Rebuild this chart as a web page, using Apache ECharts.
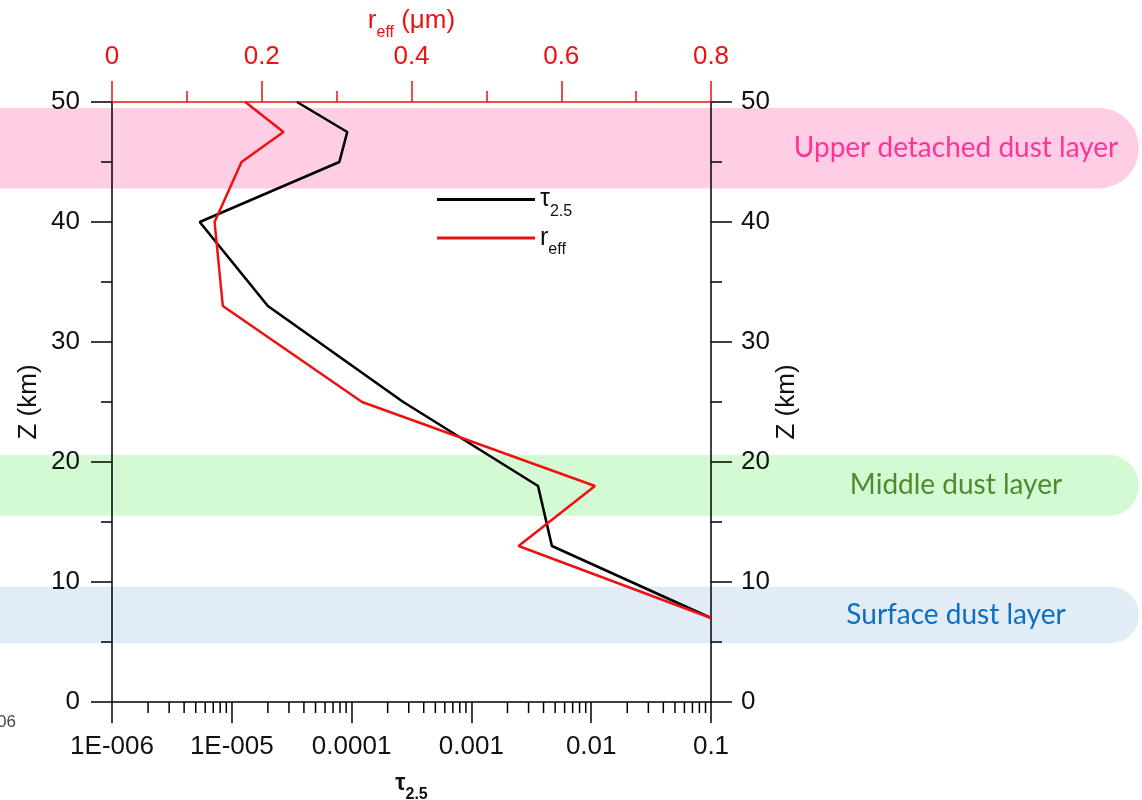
<!DOCTYPE html>
<html>
<head>
<meta charset="utf-8">
<script src="https://cdn.jsdelivr.net/npm/echarts@6/dist/echarts.min.js"></script>
<style>
html,body{margin:0;padding:0;background:#fff;}
#chart{width:1142px;height:800px;}
</style>
</head>
<body>
<div id="chart"></div>
<script>
// ---- data ----
const altitudeKm = [50, 47.5, 45, 40, 33, 25, 18, 13, 7];
const tau25 = [3.5e-5, 9.2e-5, 7.9e-5, 5.4e-6, 2.0e-5, 2.7e-4, 3.6e-3, 4.7e-3, 0.1];
const rEff = [0.178, 0.229, 0.173, 0.137, 0.148, 0.334, 0.645, 0.543, 0.8];

// tick labels for log axis (exponent -6 .. -1)
const logExponents = [-6, -5, -4, -3, -2, -1];
const logTickLabels = ['1E-006', '1E-005', '0.0001', '0.001', '0.01', '0.1'];
const minorMultipliers = [2, 3, 4, 5, 6, 7, 8, 9];
const minorDecades = [1e-6, 1e-5, 1e-4, 1e-3, 1e-2];

// dust layer bands (km)
const bandNames = ['Upper detached dust layer', 'Middle dust layer', 'Surface dust layer'];
const bandTop = [49.5, 20.6, 9.6];
const bandBottom = [42.8, 15.5, 4.9];
const bandFill = ['rgba(255,102,170,0.32)', 'rgba(90,235,90,0.26)', 'rgba(140,180,225,0.25)'];
const bandTextColor = ['#ff3399', '#4f8a2e', '#0a70c0'];

const minorTickData = [];
minorDecades.forEach(d => minorMultipliers.forEach(m => minorTickData.push([m * d, 0])));

const FONT = '"Liberation Sans", Arial, sans-serif';
const RED = '#ee1111';
const LBL = 26;

const chart = echarts.init(document.getElementById('chart'), null, {renderer: 'canvas'});

function baseAxis(color) {
  return {
    nameMoveOverlap: false,
    axisLine: {show: true, onZero: false, lineStyle: {color: color, width: 1.5}},
    axisTick: {show: true, length: 21, lineStyle: {color: color, width: 1.5}},
    splitLine: {show: false},
    minorSplitLine: {show: false}
  };
}

const option = {
  backgroundColor: '#fff',
  animation: false,
  textStyle: {fontFamily: FONT},
  grid: {left: 112, top: 102, right: 431, bottom: 98, containLabel: false, outerBoundsMode: 'none'},
  legend: {
    data: ['tau', 'reff'],
    orient: 'vertical',
    left: 432,
    top: 182,
    itemWidth: 98,
    itemHeight: 3,
    itemGap: 6,
    icon: 'rect',
    formatter: n => n === 'tau' ? '{m|τ}{s|2.5}' : '{m|r}{s|eff}',
    textStyle: {
      fontFamily: FONT,
      color: '#111',
      rich: {
        m: {fontSize: 25, fontFamily: FONT, color: '#111', lineHeight: 28},
        s: {fontSize: 16, fontFamily: FONT, color: '#111', verticalAlign: 'bottom', lineHeight: 14, padding: [0, 0, -6, 0]}
      }
    }
  },
  xAxis: [
    Object.assign(baseAxis('#000'), {
      type: 'log',
      logBase: 10,
      min: 1e-6,
      max: 0.1,
      splitNumber: 5,
      position: 'bottom',
      name: '{t|τ}{s|2.5}',
      nameLocation: 'middle',
      nameGap: 70,
      nameTextStyle: {
        rich: {
          t: {fontSize: 23, fontWeight: 'bold', fontFamily: FONT, color: '#111'},
          s: {fontSize: 16, fontWeight: 'bold', fontFamily: FONT, color: '#111', verticalAlign: 'bottom', padding: [0, 0, -8, 0]}
        }
      },
      minorTick: {show: false},
      axisLabel: {
        fontSize: LBL, color: '#111', margin: 32, fontFamily: FONT,
        formatter: v => {
          const e = Math.round(Math.log10(v));
          const i = logExponents.indexOf(e);
          return i >= 0 ? logTickLabels[i] : '';
        }
      }
    }),
    Object.assign(baseAxis(RED), {
      type: 'value',
      min: 0,
      max: 0.8,
      interval: 0.2,
      position: 'top',
      name: '{r|r}{s|eff}{r| (μm)}',
      nameLocation: 'middle',
      nameGap: 68,
      nameTextStyle: {
        rich: {
          r: {fontSize: 26, fontFamily: FONT, color: RED},
          s: {fontSize: 16, fontFamily: FONT, color: RED, verticalAlign: 'bottom', padding: [0, 0, -7, 0]}
        }
      },
      minorTick: {show: true, splitNumber: 2, length: 11, lineStyle: {color: RED, width: 1.5}},
      axisLabel: {fontSize: LBL, color: RED, margin: 32, fontFamily: FONT}
    })
  ],
  yAxis: [
    Object.assign(baseAxis('#000'), {
      type: 'value', min: 0, max: 50, interval: 10, position: 'left',
      name: 'Z (km)', nameLocation: 'middle', nameGap: 70, nameRotate: 90,
      nameTextStyle: {fontSize: LBL, color: '#111', fontFamily: FONT},
      minorTick: {show: true, splitNumber: 2, length: 11, lineStyle: {color: '#000', width: 1.5}},
      axisLabel: {fontSize: LBL, color: '#111', margin: 32, fontFamily: FONT}
    }),
    Object.assign(baseAxis('#000'), {
      type: 'value', min: 0, max: 50, interval: 10, position: 'right',
      name: 'Z (km)', nameLocation: 'middle', nameGap: 63, nameRotate: 90,
      nameTextStyle: {fontSize: LBL, color: '#111', fontFamily: FONT},
      minorTick: {show: true, splitNumber: 2, length: 11, lineStyle: {color: '#000', width: 1.5}},
      axisLabel: {fontSize: LBL, color: '#111', margin: 30, fontFamily: FONT}
    })
  ],
  series: [
    {
      name: 'tau', type: 'line', xAxisIndex: 0, yAxisIndex: 0,
      data: altitudeKm.map((z, i) => [tau25[i], z]),
      symbol: 'none', color: '#000',
      lineStyle: {color: '#000', width: 2.6}, z: 5
    },
    {
      name: 'reff', type: 'line', xAxisIndex: 1, yAxisIndex: 0,
      data: altitudeKm.map((z, i) => [rEff[i], z]),
      symbol: 'none', color: RED,
      lineStyle: {color: RED, width: 2.5}, z: 5
    },
    {
      name: 'minorTicks', type: 'custom', xAxisIndex: 0, yAxisIndex: 0,
      data: minorTickData, clip: false, silent: true,
      renderItem: (params, api) => {
        const p = api.coord([api.value(0), api.value(1)]);
        return {type: 'line', shape: {x1: p[0], y1: p[1], x2: p[0], y2: p[1] + 11},
                style: {stroke: '#000', lineWidth: 1.5}};
      }
    }
  ]
};
chart.setOption(option);

// bands drawn via the y axis scale
const graphics = [];
const xLeftPx = 0, xRightPx = 1139, textCx = 956;
bandNames.forEach((name, i) => {
  const yTop = chart.convertToPixel({yAxisIndex: 0}, bandTop[i]);
  const yBot = chart.convertToPixel({yAxisIndex: 0}, bandBottom[i]);
  const h = yBot - yTop;
  graphics.push({
    type: 'rect', z: -10, silent: true,
    shape: {x: xLeftPx, y: yTop, width: xRightPx - xLeftPx, height: h, r: [0, h / 2, h / 2, 0]},
    style: {fill: bandFill[i]}
  });
  graphics.push({
    type: 'text', z: 10, silent: true,
    x: textCx, y: (yTop + yBot) / 2,
    style: {text: name, fill: bandTextColor[i], font: '28px Lato, "Open Sans", sans-serif',
            align: 'center', verticalAlign: 'middle', textAlign: 'center', textVerticalAlign: 'middle'}
  });
});
graphics.push({
  type: 'text', silent: true, x: -3, y: 714,
  style: {text: '06', fill: '#444', font: '17px "Liberation Sans Narrow", "Liberation Sans", sans-serif'}
});
chart.setOption({graphic: {elements: graphics}});
</script>
</body>
</html>
